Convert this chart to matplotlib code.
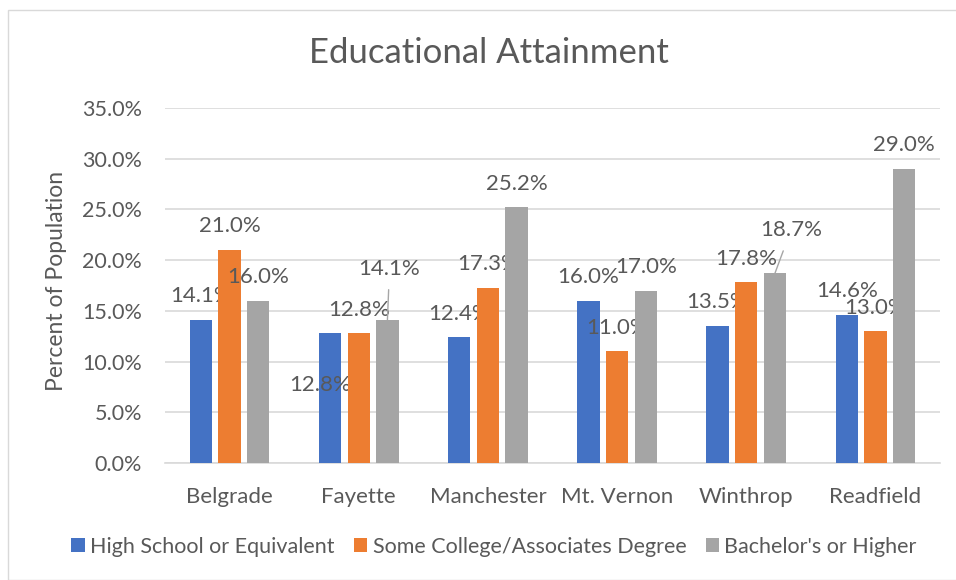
import numpy as np
import matplotlib.pyplot as plt
from matplotlib.patches import Rectangle

plt.rcParams['font.family'] = ['Lato', 'DejaVu Sans']

towns = ['Belgrade', 'Fayette', 'Manchester', 'Mt. Vernon', 'Winthrop', 'Readfield']
high_school = [14.1, 12.8, 12.4, 16.0, 13.5, 14.6]
some_college = [21.0, 12.8, 17.3, 11.0, 17.8, 13.0]
bachelors = [16.0, 14.1, 25.2, 17.0, 18.7, 29.0]

series_names = ['High School or Equivalent', 'Some College/Associates Degree', "Bachelor's or Higher"]
colors = ['#4472C4', '#ED7D31', '#A5A5A5']
txt = '#595959'

# labels that were dragged by hand: (series, town) -> offset in points from bar top
moved = {(0, 1): (-7, -37), (2, 1): (1.5, 37), (2, 4): (11.5, 31)}
leaders = [(2, 1), (2, 4)]

fig = plt.figure(figsize=(9.56, 5.8), dpi=100)
fig.patches.append(Rectangle((8 / 956, 0), 1, 1 - 10 / 580, transform=fig.transFigure,
                             fill=False, edgecolor='#d9d9d9', lw=1.0))
ax = fig.add_axes([165 / 956, 1 - 463 / 580, 775 / 956, 355 / 580])

x = np.arange(len(towns))
width = 0.174
step = 0.222
all_vals = [high_school, some_college, bachelors]
for s, vals in enumerate(all_vals):
    xs = x + (s - 1) * step
    ax.bar(xs, vals, width, color=colors[s], label=series_names[s], zorder=3)
    for i, v in enumerate(vals):
        off = moved.get((s, i), (0, 17))
        kw = {}
        if (s, i) in leaders:
            kw['arrowprops'] = dict(arrowstyle='-', color='#a6a6a6', lw=1, shrinkA=6, shrinkB=0)
        ax.annotate('%.1f%%' % v, (xs[i], v), xytext=off, textcoords='offset points',
                    ha='center', va='center', fontsize=16, color=txt, **kw)

ax.set_xlim(-0.5, len(towns) - 0.5)
ax.set_ylim(0, 35)
ax.set_yticks(np.arange(0, 36, 5))
ax.set_yticklabels(['%.1f%%' % t for t in np.arange(0, 36, 5)])
ax.set_xticks(x)
ax.set_xticklabels(towns)
ax.tick_params(axis='both', length=0, colors=txt)
ax.tick_params(axis='x', pad=17, labelsize=16)
ax.tick_params(axis='y', pad=16.5, labelsize=15.5)
ax.grid(axis='y', color='#d9d9d9', lw=1.2, zorder=0)
for sp in ['top', 'right', 'left']:
    ax.spines[sp].set_visible(False)
ax.spines['bottom'].set_color('#d9d9d9')
ax.spines['bottom'].set_linewidth(1.2)

ax.set_ylabel('Percent of Population', fontsize=16.5, color=txt)
ax.yaxis.set_label_coords(-0.126, 0.513)
fig.text(489 / 956, 1 - 53 / 580, 'Educational Attainment', ha='center', va='center',
         fontsize=25, color=txt)

fig.legend(loc='center', bbox_to_anchor=(494 / 956, 1 - 547 / 580), ncol=3, frameon=False,
           fontsize=15.5, labelcolor=txt, handlelength=0.62, handleheight=0.62,
           handletextpad=0.25, columnspacing=0.9)

fig.savefig('out.png', dpi=100)
